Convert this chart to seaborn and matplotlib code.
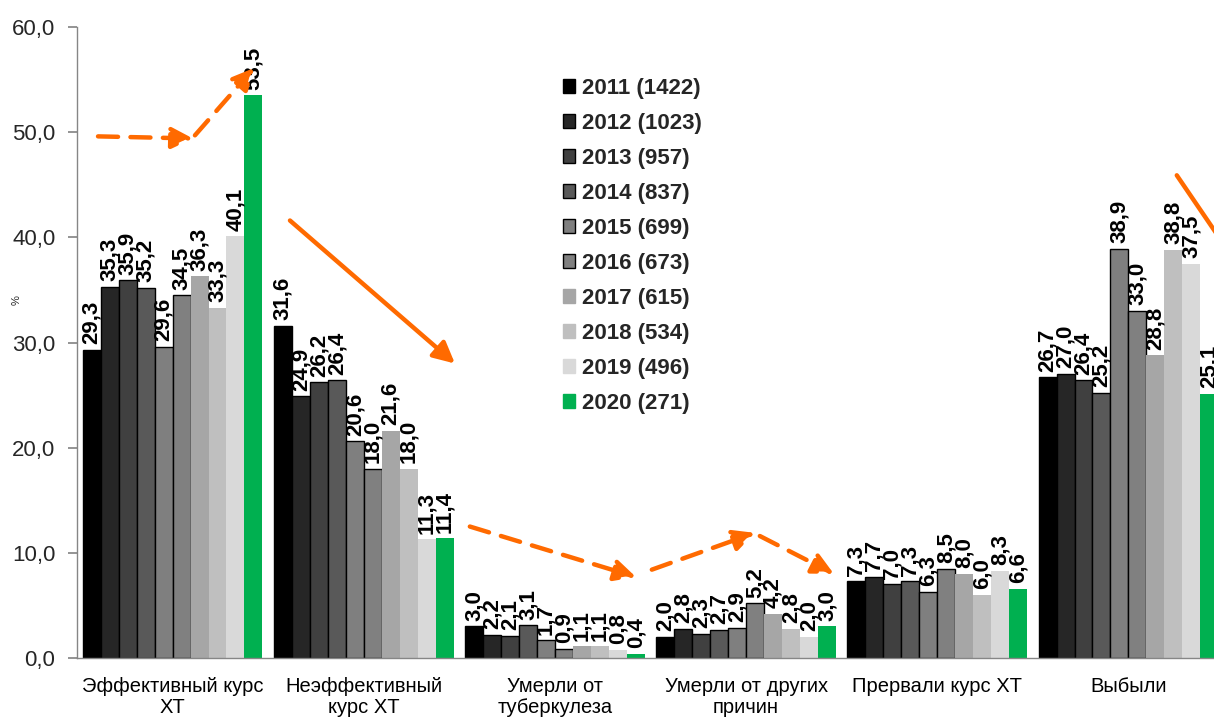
import matplotlib
matplotlib.use("Agg")
import matplotlib.pyplot as plt
import seaborn as sns
import pandas as pd
import numpy as np
from matplotlib.patches import Patch
from matplotlib.ticker import FuncFormatter

# Treatment outcome categories
outcomes = [
    "Эффективный курс\nХТ",
    "Неэффективный\nкурс ХТ",
    "Умерли от\nтуберкулеза",
    "Умерли от других\nпричин",
    "Прервали курс ХТ",
    "Выбыли",
]

# Cohort years with number of patients
years = [
    "2011 (1422)", "2012 (1023)", "2013 (957)", "2014 (837)", "2015 (699)",
    "2016 (673)", "2017 (615)", "2018 (534)", "2019 (496)", "2020 (271)",
]

# Share of patients (%) per outcome, one value per cohort year
effective = [29.3, 35.3, 35.9, 35.2, 29.6, 34.5, 36.3, 33.3, 40.1, 53.5]
ineffective = [31.6, 24.9, 26.2, 26.4, 20.6, 18.0, 21.6, 18.0, 11.3, 11.4]
died_tb = [3.0, 2.2, 2.1, 3.1, 1.7, 0.9, 1.1, 1.1, 0.8, 0.4]
died_other = [2.0, 2.8, 2.3, 2.7, 2.9, 5.2, 4.2, 2.8, 2.0, 3.0]
interrupted = [7.3, 7.7, 7.0, 7.3, 6.3, 8.5, 8.0, 6.0, 8.3, 6.6]
dropped = [26.7, 27.0, 26.4, 25.2, 38.9, 33.0, 28.8, 38.8, 37.5, 25.1]

series = [effective, ineffective, died_tb, died_other, interrupted, dropped]

colors = ["#000000", "#262626", "#404040", "#595959", "#7f7f7f",
          "#808080", "#a6a6a6", "#bfbfbf", "#d9d9d9", "#00b050"]
outlined = 6  # first cohorts drawn with a black outline

rows = []
for outcome, vals in zip(outcomes, series):
    for year, v in zip(years, vals):
        rows.append({"outcome": outcome, "year": year, "value": v})
df = pd.DataFrame(rows)

sns.set_theme(style="white")
plt.rcParams["font.family"] = ["Liberation Sans", "DejaVu Sans"]

W, H = 1214, 717
fig = plt.figure(figsize=(W / 100, H / 100), dpi=100)
ax = fig.add_axes([77 / W, 59 / H, 1147 / W, 631 / H])

sns.barplot(data=df, x="outcome", y="value", hue="year", order=outcomes,
            hue_order=years, palette=colors, saturation=1, width=0.94,
            errorbar=None, legend=False, ax=ax)

def fmt(v):
    return f"{v:.1f}".replace(".", ",")

for i, cont in enumerate(ax.containers):
    for bar in cont:
        if i < outlined:
            bar.set_edgecolor("black")
            bar.set_linewidth(1.0)
        else:
            bar.set_linewidth(0)
    vals = [series[k][i] for k in range(len(outcomes))]
    ax.bar_label(cont, labels=[fmt(v) for v in vals], rotation=90, padding=4,
                 fontsize=16, fontweight="bold", color="black")

ax.set_ylim(0, 60)
ax.set_xlim(-0.5, 5.5)
ax.set_yticks(np.arange(0, 61, 10))
ax.yaxis.set_major_formatter(FuncFormatter(lambda v, _: fmt(v)))
ax.set_xlabel("")
ax.set_ylabel("%", fontsize=8)
ax.yaxis.set_label_coords(-0.048, 0.567)

ax.set_xticks(np.arange(-0.5, 6, 1), minor=True)
gray = "#868686"
ax.tick_params(axis="x", which="major", length=0, pad=14, labelsize=14.5, colors="black")
ax.tick_params(axis="x", which="minor", length=6, color=gray, direction="out")
ax.tick_params(axis="y", length=6.5, color=gray, pad=9, labelsize=16, direction="out", left=True)
for lbl in ax.get_xticklabels():
    lbl.set_linespacing(1.1)

for side in ("top", "right"):
    ax.spines[side].set_visible(False)
for side in ("left", "bottom"):
    ax.spines[side].set_color(gray)
    ax.spines[side].set_linewidth(1.0)

handles = [Patch(facecolor=c, edgecolor="black" if i < outlined else c, linewidth=1.0)
           for i, c in enumerate(colors)]
ax.legend(handles, years, loc="upper left", bbox_to_anchor=(563 / W, 1 - 78 / H),
          bbox_transform=fig.transFigure, frameon=False,
          prop={"weight": "bold", "size": 16}, handlelength=0.55, handleheight=0.55,
          handletextpad=0.3, labelspacing=0.63, borderpad=0, borderaxespad=0)

# Trend arrows: (start x, start y, tip x, tip y, dashed)
orange = "#ff6a00"
trend_arrows = [
    (-0.39, 49.6, 0.107, 49.4, True),
    (0.117, 49.7, 0.426, 56.1, True),
    (0.614, 41.6, 1.477, 28.0, False),
    (1.555, 12.5, 2.424, 7.7, True),
    (2.507, 8.4, 3.046, 11.9, True),
    (3.072, 11.6, 3.459, 8.0, True),
    (5.253, 45.9, 5.740, 32.9, False),
]
for x0, y0, x1, y1, dashed in trend_arrows:
    ax.annotate("", xy=(x1, y1), xytext=(x0, y0), annotation_clip=False,
                arrowprops=dict(arrowstyle="-|>,head_length=0.8,head_width=0.4",
                                mutation_scale=16, color=orange, lw=3.2,
                                linestyle=(0, (4.5, 2.8)) if dashed else "-",
                                shrinkA=0, shrinkB=0))

fig.savefig("out.png", dpi=100)
